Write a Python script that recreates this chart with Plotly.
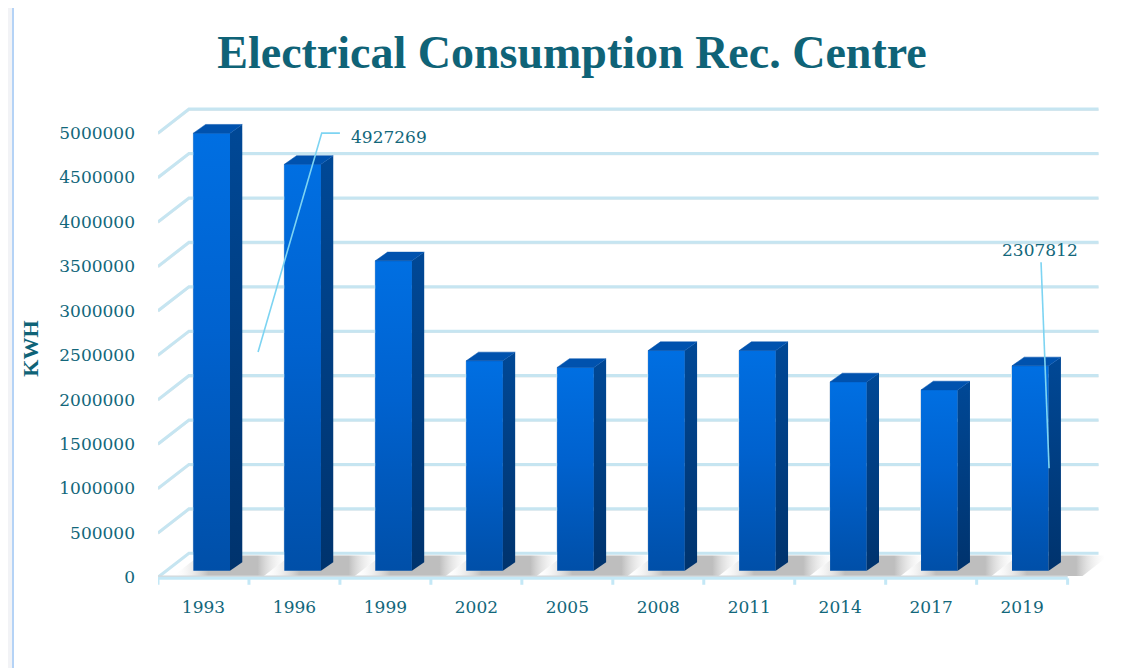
import plotly.graph_objects as go

# ---------------- data ----------------
years = ["1993", "1996", "1999", "2002", "2005", "2008", "2011", "2014", "2017", "2019"]
kwh = [4927269, 4576000, 3490000, 2364000, 2290000, 2480000, 2480000, 2127000, 2037000, 2307812]
y_ticks = [0, 500000, 1000000, 1500000, 2000000, 2500000, 3000000, 3500000, 4000000, 4500000, 5000000]
title_text = "Electrical Consumption Rec. Centre"
y_title = "KWH"
labelled = [0, 9]  # indices of bars with data labels

# ---------------- layout geometry ----------------
W, H = 1128, 668
ML, MR, MT, MB = 150, 32, 94, 81
XR = [-0.5, 9.9]
YR = [-200000, 5350000]
TEAL = "#12677b"
GRID = "#c6e5f1"

# pseudo-3D depth (in axis units)
DXB, DYB = 0.34, 270000      # back wall offset
DXF, DYF = 0.09, 72000       # bar front offset
DXS, DYS = 0.135, 98000      # bar depth
BW = 0.403                   # bar width

pw = W - ML - MR
ph = H - MT - MB


def xp(px):
    return (px - ML) / pw


def yp(py):
    return (H - MB - py) / ph


fig = go.Figure()
xs = list(range(len(years)))
n = len(years)

# floor (fill)
fig.add_trace(go.Scatter(
    x=[-0.5, n - 0.5, n - 0.5 + DXB, -0.5 + DXB, -0.5],
    y=[0, 0, DYB, DYB, 0],
    fill="toself", fillcolor="#ffffff", mode="lines",
    line=dict(width=0), hoverinfo="skip", showlegend=False))

# floor shadows around bars (parallelograms following the floor depth)
SY0, SY1 = 14000, DYB - 25000
for i, v in zip(xs, kwh):
    xl = i + DXF - BW / 2
    xr = i + DXF + BW / 2
    a0 = xl - 0.24
    a1 = xr + DXS + 0.22
    k0 = DXB * SY0 / DYB
    k1 = DXB * SY1 / DYB
    fig.add_trace(go.Scatter(
        x=[a0 + k0, a1 + k0, a1 + k1, a0 + k1, a0 + k0],
        y=[SY0, SY0, SY1, SY1, SY0],
        fill="toself", mode="lines", line=dict(width=0),
        fillgradient=dict(type="horizontal",
                          colorscale=[[0, "rgba(255,255,255,0)"], [0.3, "rgba(125,125,125,0.5)"],
                                      [0.72, "rgba(125,125,125,0.5)"], [1, "rgba(255,255,255,0)"]]),
        hoverinfo="skip", showlegend=False))

# floor left diagonal and back edge
fig.add_trace(go.Scatter(x=[-0.5, -0.5 + DXB, n - 0.5 + DXB], y=[0, DYB, DYB], mode="lines",
                         line=dict(color=GRID, width=3), hoverinfo="skip", showlegend=False))

# floor front edge (grey) and axis line
fig.add_trace(go.Scatter(x=[-0.5, n - 0.5], y=[9000, 9000], mode="lines",
                         line=dict(color="#d4d8da", width=2), hoverinfo="skip", showlegend=False))
fig.add_trace(go.Scatter(x=[-0.5, n - 0.5], y=[-12000, -12000], mode="lines",
                         line=dict(color="#c4e8f6", width=3), hoverinfo="skip", showlegend=False))
# category boundary ticks
tx, ty = [], []
for b in range(n + 1):
    tx += [b - 0.5, b - 0.5, None]
    ty += [-12000, -85000, None]
fig.add_trace(go.Scatter(x=tx, y=ty, mode="lines", line=dict(color="#c4e8f6", width=3),
                         hoverinfo="skip", showlegend=False))

# gridlines: left side wall diagonal + back wall horizontal
gx, gy = [], []
for v in y_ticks[1:]:
    gx += [-0.5, -0.5 + DXB, n - 0.5 + DXB, None]
    gy += [v, v + DYB, v + DYB, None]
fig.add_trace(go.Scatter(x=gx, y=[None if g is None else g - 9000 for g in gy], mode="lines",
                         line=dict(color="#dfe7ea", width=2), hoverinfo="skip", showlegend=False))
fig.add_trace(go.Scatter(x=gx, y=gy, mode="lines", line=dict(color=GRID, width=3),
                         hoverinfo="skip", showlegend=False))

# bars: front faces
fig.add_trace(go.Bar(
    x=[i + DXF for i in xs], y=kwh, base=DYF, width=BW,
    marker=dict(color="#005fc8", line=dict(color="#9fb3c8", width=0.8)),
    hoverinfo="skip", showlegend=False))

# gradient overlay on front faces, side and top faces
for i, v in zip(xs, kwh):
    xl = i + DXF - BW / 2
    xr = i + DXF + BW / 2
    b = DYF
    fig.add_trace(go.Scatter(
        x=[xl, xr, xr, xl, xl], y=[b, b, b + v, b + v, b],
        fill="toself", mode="lines", line=dict(width=0),
        fillgradient=dict(type="vertical", colorscale=[[0, "#004fa8"], [0.55, "#0062cf"], [1, "#006fe2"]]),
        hoverinfo="skip", showlegend=False))
    fig.add_trace(go.Scatter(
        x=[xr, xr + DXS, xr + DXS, xr, xr], y=[b, b + DYS, b + v + DYS, b + v, b],
        fill="toself", mode="lines", line=dict(width=0),
        fillgradient=dict(type="vertical", colorscale=[[0, "#00336d"], [1, "#004896"]]),
        hoverinfo="skip", showlegend=False))
    fig.add_trace(go.Scatter(
        x=[xl, xr, xr + DXS, xl + DXS, xl], y=[b + v, b + v, b + v + DYS, b + v + DYS, b + v],
        fill="toself", fillcolor="#0052ae", mode="lines", line=dict(color="#0052ae", width=0.5),
        hoverinfo="skip", showlegend=False))

# data label leader lines
i0, i9 = labelled
v0, v9 = kwh[i0], kwh[i9]
fig.add_trace(go.Scatter(
    x=[i0 + 0.60, i0 + 1.30, i0 + 1.50, None, i9 + 0.296, i9 + 0.208],
    y=[v0 / 2 + DYF, 5000000, 5000000, None, v9 / 2 + DYF, 3547000],
    mode="lines", line=dict(color="#7dd4f2", width=1.6), hoverinfo="skip", showlegend=False))

annotations = [
    dict(x=i0 + 1.60, y=4955000, xref="x", yref="y", text=f"{v0}", showarrow=False,
         xanchor="left", yanchor="middle", font=dict(family="DejaVu Serif", size=17, color=TEAL)),
    dict(x=i9 + 0.197, y=3685000, xref="x", yref="y", text=f"{v9}", showarrow=False,
         xanchor="center", yanchor="middle", font=dict(family="DejaVu Serif", size=17, color=TEAL)),
]

# page decoration (left border strip)
shapes = [
    dict(type="rect", xref="paper", yref="paper", x0=xp(0), x1=xp(4), y0=yp(H), y1=yp(0),
         fillcolor="#f2f3f6", line=dict(width=0), layer="below"),
    dict(type="line", xref="paper", yref="paper", x0=xp(5), x1=xp(5), y0=yp(H), y1=yp(0),
         line=dict(color="#b5d3f6", width=2), layer="below"),
]

fig.update_layout(
    width=W, height=H,
    margin=dict(l=ML, r=MR, t=MT, b=MB, pad=0),
    paper_bgcolor="#ffffff", plot_bgcolor="rgba(0,0,0,0)",
    barmode="overlay",
    title=dict(text=f"<b>{title_text}</b>", x=0.5, xref="container", xanchor="center",
               y=(H - 44) / H, yref="container", yanchor="middle",
               font=dict(family="Liberation Serif", size=46, color="#0f6377")),
    xaxis=dict(range=XR, tickvals=xs, ticktext=years, showgrid=False, zeroline=False,
               showline=False, ticks="", tickfont=dict(family="DejaVu Serif", size=17, color=TEAL),
               fixedrange=True),
    yaxis=dict(range=YR, tickvals=y_ticks, ticktext=[str(t) for t in y_ticks], showgrid=False,
               zeroline=False, showline=False, ticks="", ticklabelstandoff=22,
               tickfont=dict(family="DejaVu Serif", size=17, color=TEAL),
               title=dict(text=f"<b>{y_title}</b>", standoff=14,
                          font=dict(family="Liberation Serif", size=22, color="#0f6377")),
               fixedrange=True),
    annotations=annotations,
    shapes=shapes,
    showlegend=False,
)

fig.write_html("out.html")
